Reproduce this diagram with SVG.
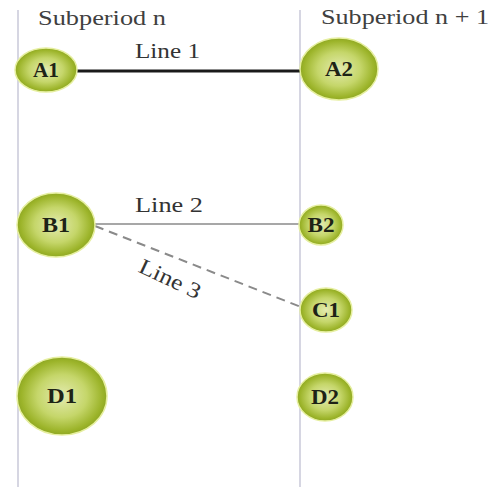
<svg xmlns="http://www.w3.org/2000/svg" width="501" height="487" viewBox="0 0 501 487">
  <defs>
    <radialGradient id="ball" cx="50%" cy="50%" r="50%">
      <stop offset="0" stop-color="#e4ebb0"/>
      <stop offset="0.55" stop-color="#c5d66a"/>
      <stop offset="0.9" stop-color="#9cb42a"/>
      <stop offset="1" stop-color="#8fa824"/>
    </radialGradient>
    <style>
      .period { stroke: #d6d6e2; stroke-width: 2; }
      .node ellipse { fill: url(#ball); stroke: #e6efa0; stroke-width: 1.5; }
      .node text { font-family: "Liberation Serif", serif; font-weight: bold; font-size: 20px; fill: #1e2316; text-anchor: middle; dominant-baseline: central; }
      .head { font-family: "Liberation Serif", serif; font-size: 22px; fill: #404040; }
      .lbl { font-family: "Liberation Serif", serif; font-size: 22px; fill: #333; }
    </style>
  </defs>
  <rect width="501" height="487" fill="#ffffff"/>

  <!-- subperiod boundaries -->
  <line class="period" x1="18" y1="10" x2="18" y2="487"/>
  <line class="period" x1="300" y1="10" x2="300" y2="487"/>

  <text class="head" x="38" y="25" textLength="128" lengthAdjust="spacingAndGlyphs">Subperiod n</text>
  <text class="head" x="321" y="24" textLength="168" lengthAdjust="spacingAndGlyphs">Subperiod n + 1</text>

  <!-- connectors -->
  <g id="connectors">
    <line x1="77" y1="71" x2="301" y2="71" stroke="#1a1a1a" stroke-width="3"/>
    <line x1="95" y1="224" x2="300" y2="224" stroke="#8a8a8a" stroke-width="1.5"/>
    <line x1="95" y1="226" x2="301" y2="307" stroke="#8a8a8a" stroke-width="2" stroke-dasharray="9,6"/>
    <text class="lbl" x="135" y="58" textLength="65" lengthAdjust="spacingAndGlyphs">Line 1</text>
    <text class="lbl" x="135" y="212" textLength="68" lengthAdjust="spacingAndGlyphs">Line 2</text>
    <text class="lbl" x="-33" y="7" transform="translate(170,279) rotate(25)" textLength="66" lengthAdjust="spacingAndGlyphs">Line 3</text>
  </g>

  <g id="A1" class="node"><ellipse cx="46" cy="70" rx="31" ry="22"/><text x="46" y="70" textLength="26" lengthAdjust="spacingAndGlyphs">A1</text></g>
  <g id="A2" class="node"><ellipse cx="339" cy="69" rx="39" ry="31"/><text x="339" y="69" textLength="28" lengthAdjust="spacingAndGlyphs">A2</text></g>
  <g id="B1" class="node"><ellipse cx="56" cy="225" rx="39" ry="32"/><text x="56" y="225" textLength="28" lengthAdjust="spacingAndGlyphs">B1</text></g>
  <g id="B2" class="node"><ellipse cx="321" cy="225" rx="22" ry="20"/><text x="321" y="225" textLength="27" lengthAdjust="spacingAndGlyphs">B2</text></g>
  <g id="C1" class="node"><ellipse cx="326" cy="310" rx="26" ry="22"/><text x="326" y="310" textLength="28" lengthAdjust="spacingAndGlyphs">C1</text></g>
  <g id="D1" class="node"><ellipse cx="62" cy="396" rx="45" ry="39"/><text x="62" y="396" textLength="30" lengthAdjust="spacingAndGlyphs">D1</text></g>
  <g id="D2" class="node"><ellipse cx="325" cy="397" rx="28" ry="24"/><text x="325" y="397" textLength="28" lengthAdjust="spacingAndGlyphs">D2</text></g>
</svg>
